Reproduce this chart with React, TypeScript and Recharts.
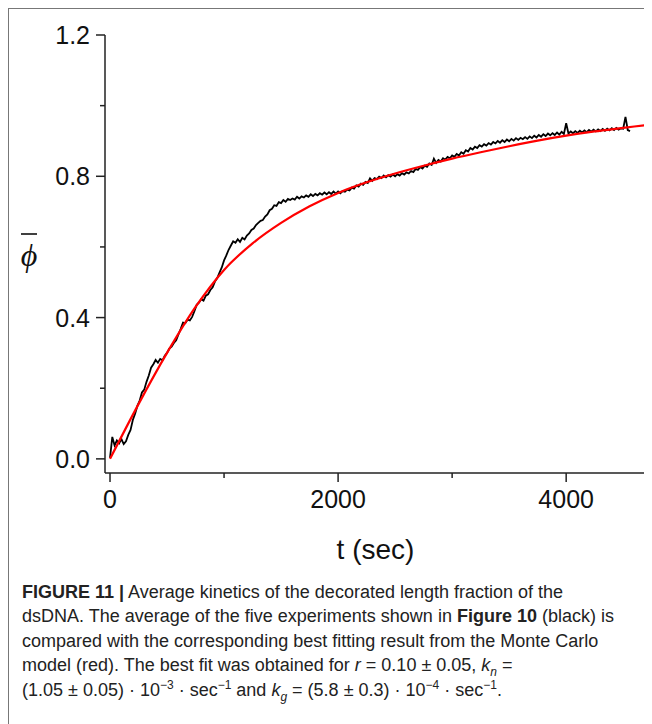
import React from "react";
import { LineChart, Line, XAxis, YAxis } from "recharts";

// Average decorated length fraction (black trace), [t (sec), phi]
const averageTrace: [number, number][] = [
  [0, 0.003], [20, 0.062], [40, 0.038], [60, 0.052], [80, 0.044], [100, 0.056], [120, 0.042], [140, 0.05],
  [160, 0.068], [180, 0.082], [200, 0.11], [220, 0.128], [240, 0.15], [260, 0.165], [280, 0.188], [300, 0.196],
  [320, 0.218], [340, 0.236], [360, 0.258], [380, 0.268], [400, 0.28], [420, 0.272], [440, 0.283], [460, 0.279],
  [480, 0.292], [500, 0.3], [520, 0.312], [540, 0.318], [560, 0.328], [580, 0.336], [600, 0.352], [620, 0.368],
  [640, 0.386], [660, 0.384], [680, 0.394], [700, 0.392], [720, 0.402], [740, 0.418], [760, 0.436], [780, 0.442],
  [800, 0.452], [820, 0.448], [840, 0.462], [860, 0.466], [880, 0.478], [900, 0.486], [920, 0.502], [940, 0.512],
  [960, 0.527], [980, 0.542], [1000, 0.562], [1020, 0.576], [1040, 0.592], [1060, 0.604], [1080, 0.616], [1100, 0.612],
  [1120, 0.622], [1140, 0.614], [1160, 0.626], [1180, 0.621], [1200, 0.632], [1220, 0.638], [1240, 0.648], [1260, 0.652],
  [1280, 0.662], [1300, 0.668], [1320, 0.674], [1340, 0.676], [1360, 0.686], [1380, 0.692], [1400, 0.704], [1420, 0.708],
  [1440, 0.718], [1460, 0.716], [1480, 0.727], [1500, 0.724], [1520, 0.733], [1540, 0.728], [1560, 0.736], [1580, 0.733],
  [1600, 0.737], [1620, 0.734], [1640, 0.742], [1660, 0.737], [1680, 0.743], [1700, 0.74], [1720, 0.746], [1740, 0.742],
  [1760, 0.749], [1780, 0.744], [1800, 0.75], [1820, 0.746], [1840, 0.752], [1860, 0.748], [1880, 0.754], [1900, 0.749],
  [1920, 0.755], [1940, 0.75], [1960, 0.757], [1980, 0.751], [2000, 0.757], [2020, 0.752], [2040, 0.758], [2060, 0.756],
  [2080, 0.762], [2100, 0.76], [2120, 0.768], [2140, 0.765], [2160, 0.774], [2180, 0.771], [2200, 0.779], [2220, 0.776],
  [2240, 0.784], [2260, 0.781], [2280, 0.794], [2300, 0.787], [2320, 0.795], [2340, 0.792], [2360, 0.799], [2380, 0.795],
  [2400, 0.802], [2420, 0.797], [2440, 0.803], [2460, 0.799], [2480, 0.805], [2500, 0.8], [2520, 0.806], [2540, 0.802],
  [2560, 0.809], [2580, 0.805], [2600, 0.811], [2620, 0.808], [2640, 0.815], [2660, 0.812], [2680, 0.821], [2700, 0.818],
  [2720, 0.826], [2740, 0.822], [2760, 0.83], [2780, 0.827], [2800, 0.836], [2820, 0.832], [2840, 0.85], [2860, 0.838],
  [2880, 0.846], [2900, 0.842], [2920, 0.851], [2940, 0.847], [2960, 0.855], [2980, 0.851], [3000, 0.859], [3020, 0.855],
  [3040, 0.863], [3060, 0.859], [3080, 0.868], [3100, 0.864], [3120, 0.874], [3140, 0.87], [3160, 0.88], [3180, 0.876],
  [3200, 0.884], [3220, 0.88], [3240, 0.888], [3260, 0.884], [3280, 0.891], [3300, 0.887], [3320, 0.894], [3340, 0.89],
  [3360, 0.897], [3380, 0.893], [3400, 0.9], [3420, 0.895], [3440, 0.902], [3460, 0.897], [3480, 0.904], [3500, 0.899],
  [3520, 0.906], [3540, 0.901], [3560, 0.908], [3580, 0.903], [3600, 0.909], [3620, 0.905], [3640, 0.911], [3660, 0.906],
  [3680, 0.913], [3700, 0.908], [3720, 0.915], [3740, 0.91], [3760, 0.917], [3780, 0.912], [3800, 0.919], [3820, 0.914],
  [3840, 0.921], [3860, 0.916], [3880, 0.922], [3900, 0.917], [3920, 0.924], [3940, 0.918], [3960, 0.926], [3980, 0.92],
  [4000, 0.95], [4020, 0.921], [4040, 0.927], [4060, 0.922], [4080, 0.928], [4100, 0.923], [4120, 0.929], [4140, 0.924],
  [4160, 0.93], [4180, 0.925], [4200, 0.931], [4220, 0.926], [4240, 0.932], [4260, 0.927], [4280, 0.933], [4300, 0.928],
  [4320, 0.934], [4340, 0.929], [4360, 0.935], [4380, 0.93], [4400, 0.936], [4420, 0.931], [4440, 0.937], [4460, 0.932],
  [4480, 0.936], [4500, 0.935], [4520, 0.968], [4540, 0.931], [4560, 0.928],
];

// Monte Carlo best fit (red curve)
const fitTime = [0, 250, 500, 750, 1000, 1250, 1500, 1750, 2000, 2250, 2500, 2750, 3000, 3250, 3500, 3750, 4000, 4250, 4500, 4700];
const fitPhi = [0, 0.155, 0.3, 0.43, 0.535, 0.61, 0.668, 0.715, 0.753, 0.783, 0.808, 0.83, 0.85, 0.868, 0.885, 0.901, 0.915, 0.927, 0.937, 0.945];

const xTicks = [0, 1000, 2000, 3000, 4000];
const xLabelled = [0, 2000, 4000];
const yTicks = [0, 0.2, 0.4, 0.6, 0.8, 1.0, 1.2];
const yLabelled = [0, 0.4, 0.8, 1.2];

const traceData = averageTrace.map(([t, phi]) => ({ t, phi }));
const fitData = fitTime.map((t, i) => ({ t, phi: fitPhi[i] }));

const AXIS = "#222";
const FONT = "'Liberation Sans', Arial, sans-serif";

const XTick = (props: any) => {
  const { x, y, payload } = props;
  const major = xLabelled.includes(payload.value);
  return (
    <g>
      <line x1={x} x2={x} y1={y} y2={y + (major ? 9 : 5)} stroke={AXIS} strokeWidth={1.5} />
      {major && (
        <text x={x} y={y + 35} textAnchor="middle" fontSize={25} fontFamily={FONT} fill="#111">
          {payload.value}
        </text>
      )}
    </g>
  );
};

const YTick = (props: any) => {
  const { x, y, payload } = props;
  const major = yLabelled.some((v) => Math.abs(v - payload.value) < 1e-9);
  return (
    <g>
      <line x1={x} x2={x - (major ? 9 : 5)} y1={y} y2={y} stroke={AXIS} strokeWidth={1.5} />
      {major && (
        <text x={x - 15} y={y + 9} textAnchor="end" fontSize={25} fontFamily={FONT} fill="#111">
          {payload.value.toFixed(1)}
        </text>
      )}
    </g>
  );
};

const captionStyle: React.CSSProperties = {
  position: "absolute",
  left: 13,
  top: 571,
  fontFamily: "'Liberation Sans', Arial, sans-serif",
  fontSize: 18,
  lineHeight: "24.4px",
  color: "#222",
  whiteSpace: "nowrap",
};

const scriptStyle: React.CSSProperties = { fontSize: 12, lineHeight: 0 };

export default function App() {
  return (
    <div
      style={{
        position: "relative",
        width: 644,
        height: 716,
        borderTop: "1.5px solid #777",
        borderLeft: "1.5px solid #777",
        boxSizing: "border-box",
        background: "#fff",
      }}
    >
      <div style={{ position: "absolute", left: 0, top: 0 }}>
        <LineChart width={642} height={560} margin={{ top: 26, right: 5, left: 0, bottom: 0 }}>
          <XAxis
            dataKey="t"
            type="number"
            domain={[-44, 4700]}
            ticks={xTicks}
            tick={<XTick />}
            tickLine={false}
            tickSize={0}
            tickMargin={0}
            height={96}
            axisLine={{ stroke: AXIS, strokeWidth: 1.5 }}
            allowDataOverflow
            label={{ value: "t (sec)", position: "insideBottom", offset: 0, dy: -10, fontSize: 28, fontFamily: FONT, fill: "#111" } as any}
          />
          <YAxis
            type="number"
            domain={[-0.04, 1.2]}
            ticks={yTicks}
            tick={<YTick />}
            tickLine={false}
            tickSize={0}
            tickMargin={0}
            width={96}
            axisLine={{ stroke: AXIS, strokeWidth: 1.5 }}
            allowDataOverflow
          />
          <Line
            data={traceData}
            dataKey="phi"
            type="linear"
            stroke="#000"
            strokeWidth={1.8}
            dot={false}
            isAnimationActive={false}
          />
          <Line
            data={fitData}
            dataKey="phi"
            type="monotone"
            stroke="#f00"
            strokeWidth={2.2}
            dot={false}
            isAnimationActive={false}
          />
        </LineChart>
        <svg width={60} height={64} style={{ position: "absolute", left: 0, top: 214 }}>
          <line x1={12} x2={28} y1={11} y2={11} stroke="#111" strokeWidth={1.6} />
          <text x={20} y={43} textAnchor="middle" fontSize={32} fontStyle="italic" fontFamily="'Liberation Serif', serif" fill="#111">
            ϕ
          </text>
        </svg>
      </div>
      <div style={captionStyle}>
        <div>
          <b>FIGURE 11 |</b> Average kinetics of the decorated length fraction of the
        </div>
        <div>
          dsDNA. The average of the five experiments shown in <b>Figure 10</b> (black) is
        </div>
        <div>compared with the corresponding best fitting result from the Monte Carlo</div>
        <div>
          model (red). The best fit was obtained for <i>r</i> = 0.10 ± 0.05, <i>k</i>
          <sub style={scriptStyle}><i>n</i></sub> =
        </div>
        <div>
          (1.05 ± 0.05) · 10<sup style={scriptStyle}>−3</sup> · sec<sup style={scriptStyle}>−1</sup> and{" "}
          <i>k</i>
          <sub style={scriptStyle}><i>g</i></sub> = (5.8 ± 0.3) · 10<sup style={scriptStyle}>−4</sup> · sec
          <sup style={scriptStyle}>−1</sup>.
        </div>
      </div>
    </div>
  );
}
